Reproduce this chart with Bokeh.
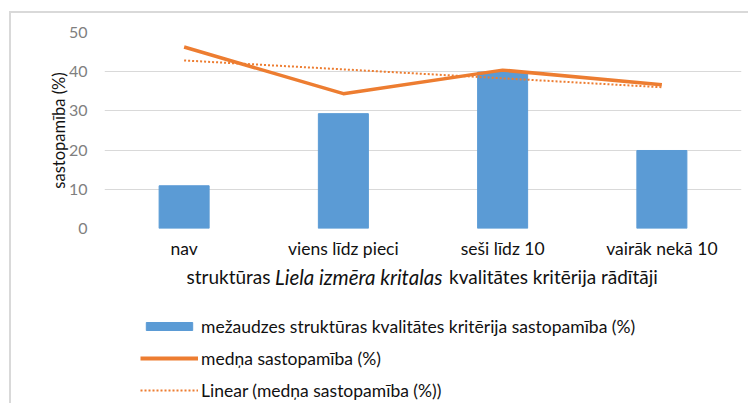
from bokeh.plotting import figure
from bokeh.layouts import column
from bokeh.models import (ColumnDataSource, FactorRange, FixedTicker, Legend,
                          LegendItem, Label, Range1d)
from bokeh.embed import file_html
from bokeh.resources import INLINE
import numpy as np

# ---- data ----
categories = ["nav", "viens līdz pieci", "seši līdz 10", "vairāk nekā 10"]
structure_pct = [10.9, 29.3, 39.9, 19.9]   # mežaudzes struktūras kvalitātes kritērija sastopamība (%)
grouse_pct = [46.3, 34.4, 40.4, 36.7]      # medņa sastopamība (%)
y_ticks = [0, 10, 20, 30, 40, 50]
series_names = ["mežaudzes struktūras kvalitātes kritērija sastopamība (%)",
                "medņa sastopamība (%)",
                "Linear (medņa sastopamība (%))"]
x_title_parts = ["struktūras", "Liela izmēra kritalas", "kvalitātes kritērija rādītāji"]
y_title = "sastopamība (%)"

# linear trend line (least squares, like Excel's "Linear" trendline)
xi = np.arange(1, len(grouse_pct) + 1)
slope, intercept = np.polyfit(xi, grouse_pct, 1)
trend_pct = list(slope * xi + intercept)

FONT = "Lato"
BLUE = "#5b9bd5"
ORANGE = "#ed7d31"
TXT = "#111111"

src = ColumnDataSource(dict(cat=categories, bar=structure_pct, line=grouse_pct, trend=trend_pct))

W = 737
# ---------------- chart figure ----------------
p = figure(width=W, height=249,
           x_range=FactorRange(*categories, range_padding=0),
           y_range=Range1d(0, 50),
           output_backend="svg", toolbar_location=None,
           min_border_left=93, min_border_right=W - 730,
           min_border_top=19, min_border_bottom=34)
p.outline_line_color = None

p.vbar(x="cat", top="bar", width=0.314, source=src,
       fill_color=BLUE, line_color=BLUE, line_width=1)
p.line(x="cat", y="line", source=src, line_color=ORANGE, line_width=3.5,
       line_join="round")
p.line(x="cat", y="trend", source=src, line_color=ORANGE, line_width=2,
       line_dash="2 2")

p.yaxis.ticker = FixedTicker(ticks=y_ticks)
p.yaxis.axis_line_color = None
p.yaxis.major_tick_line_color = None
p.yaxis.minor_tick_line_color = None
p.yaxis.major_label_text_font = FONT
p.yaxis.major_label_text_font_size = "16px"
p.yaxis.major_label_text_color = "#7f7f7f"
p.yaxis.major_label_standoff = 11
p.yaxis.axis_label = y_title
p.yaxis.axis_label_text_font = FONT
p.yaxis.axis_label_text_font_size = "16.5px"
p.yaxis.axis_label_text_font_style = "normal"
p.yaxis.axis_label_text_color = TXT
p.yaxis.axis_label_standoff = -3

p.xaxis.axis_line_color = None
p.xaxis.major_tick_line_color = None
p.xaxis.minor_tick_line_color = None
p.xaxis.major_label_text_font = FONT
p.xaxis.major_label_text_font_size = "17.5px"
p.xaxis.major_label_text_color = TXT
p.xaxis.major_label_standoff = 3

p.xgrid.grid_line_color = None
p.ygrid.grid_line_color = "#d9d9d9"
p.ygrid.grid_line_width = 1

# ---------------- title + legend strip (page-pixel coordinates) ----------------
TOP, HB = 262, 141
q = figure(width=W, height=HB, x_range=Range1d(104, 741), y_range=Range1d(TOP + HB, TOP),
           output_backend="svg", toolbar_location=None,
           x_axis_location=None, y_axis_location=None,
           min_border_left=93, min_border_right=W - 730, min_border_top=0, min_border_bottom=0)
q.grid.visible = False
q.outline_line_color = None

for txt, xpos, style, size, align in [(x_title_parts[0], 270, "normal", "19px", "right"),
                                      (x_title_parts[1], 274.5, "italic", "20.5px", "left"),
                                      (x_title_parts[2], 448.5, "normal", "19px", "left")]:
    q.add_layout(Label(x=xpos, y=276, text=txt, text_font=FONT,
                       text_font_size=size, text_font_style=style,
                       text_color=TXT, text_baseline="middle", text_align=align))

# legend swatches (renderers without visible points, so only the legend shows them)
nan = [float("nan")]
lb = q.vbar(x=nan, top=nan, width=1, fill_color=BLUE, line_color=BLUE)
ll = q.line(x=nan, y=nan, line_color=ORANGE, line_width=4)
lt = q.line(x=nan, y=nan, line_color=ORANGE, line_width=2, line_dash="2 2")

legend = Legend(items=[LegendItem(label=series_names[0], renderers=[lb]),
                       LegendItem(label=series_names[1], renderers=[ll]),
                       LegendItem(label=series_names[2], renderers=[lt])],
                location=(36, 2), orientation="vertical",
                glyph_width=58, glyph_height=10, label_standoff=3, spacing=10,
                padding=0, margin=0, border_line_color=None, background_fill_alpha=0,
                label_text_font=FONT, label_text_font_size="17.5px",
                label_text_color=TXT, label_height=22)
q.add_layout(legend, "center")

layout = column(p, q, margin=(11, 0, 0, 9),
                styles={"border-left": "2px solid #d9d9d9", "border-top": "2px solid #d9d9d9"})

open("out.html", "w").write(file_html(layout, INLINE))
